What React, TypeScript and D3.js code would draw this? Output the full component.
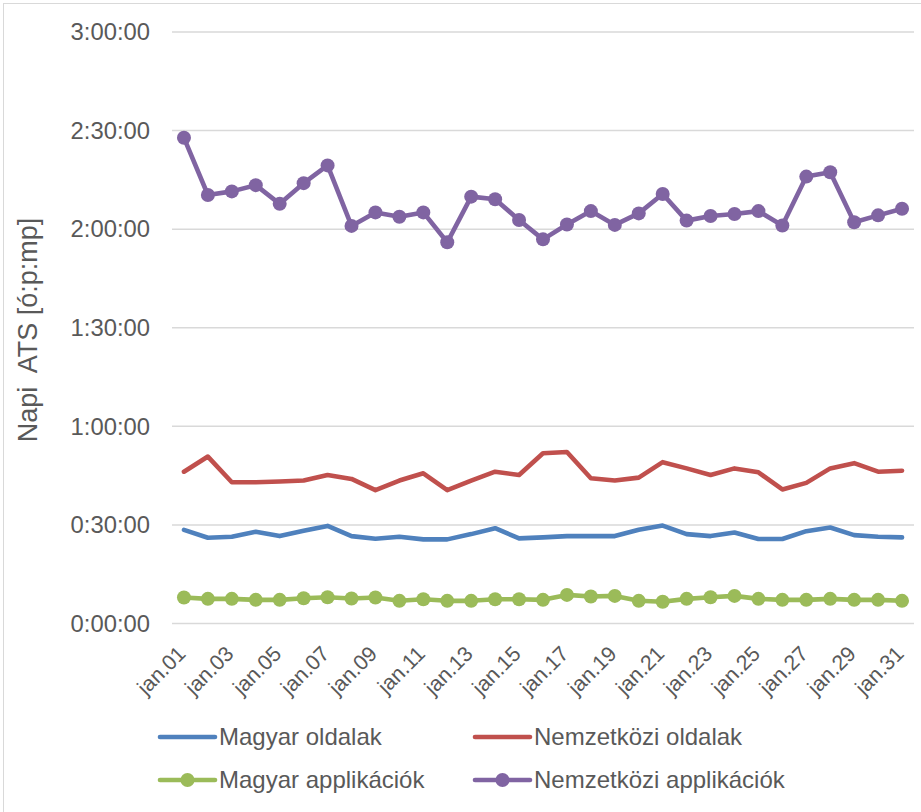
import React from "react";
import * as d3 from "d3";

const days = d3.range(1, 32).map((d) => `jan.${String(d).padStart(2, "0")}`);
// values in minutes
const magyarOldalak = [28.5, 26.1, 26.4, 27.9, 26.6, 28.2, 29.7, 26.6, 25.8, 26.4, 25.6, 25.6, 27.2, 29.0, 25.9, 26.2, 26.6, 26.6, 26.6, 28.5, 29.8, 27.2, 26.6, 27.7, 25.7, 25.7, 28.1, 29.2, 26.9, 26.4, 26.2];
const nemzetkoziOldalak = [46.2, 50.8, 43.0, 43.0, 43.2, 43.5, 45.2, 44.0, 40.6, 43.5, 45.7, 40.6, 43.5, 46.2, 45.2, 51.8, 52.2, 44.2, 43.5, 44.4, 49.1, 47.2, 45.2, 47.2, 46.0, 40.8, 42.8, 47.2, 48.8, 46.2, 46.5];
const magyarApp = [7.9, 7.5, 7.5, 7.2, 7.2, 7.7, 8.0, 7.6, 7.9, 6.9, 7.4, 6.9, 6.9, 7.4, 7.4, 7.2, 8.7, 8.2, 8.4, 6.9, 6.6, 7.5, 8.0, 8.4, 7.5, 7.2, 7.2, 7.5, 7.2, 7.2, 6.9];
const nemzetkoziApp = [147.8, 130.4, 131.5, 133.4, 127.7, 134.0, 139.4, 121.0, 125.1, 123.8, 125.1, 116.0, 129.9, 129.1, 122.8, 116.9, 121.4, 125.5, 121.3, 124.8, 130.7, 122.6, 124.0, 124.6, 125.5, 121.1, 136.0, 137.3, 122.1, 124.2, 126.2];
const yTicks = [0, 30, 60, 90, 120, 150, 180];

const series = [
  { name: "Magyar oldalak", values: magyarOldalak, color: "#4f81bd", marker: false },
  { name: "Nemzetközi oldalak", values: nemzetkoziOldalak, color: "#c0504d", marker: false },
  { name: "Magyar applikációk", values: magyarApp, color: "#9bbb59", marker: true },
  { name: "Nemzetközi applikációk", values: nemzetkoziApp, color: "#8064a2", marker: true },
];

const fmt = (m: number) => {
  const h = Math.floor(m / 60);
  const mm = Math.round(m % 60);
  return `${h}:${String(mm).padStart(2, "0")}:00`;
};

export default function App() {
  const W = 921, H = 812;
  const left = 172, right = 914, top = 32, bottom = 623.5;
  const x = d3.scaleBand<string>().domain(days).range([left, right]);
  const y = d3.scaleLinear().domain([0, 180]).range([bottom, top]);
  const cx = (d: string) => (x(d) as number) + x.bandwidth() / 2;
  const line = d3.line<number>().x((_, i) => cx(days[i])).y((v) => y(v));
  const font = "'Liberation Sans', Arial, sans-serif";
  const txt = "#595959";

  const legendPos = [
    { lx: 160, ly: 737 },
    { lx: 475, ly: 737 },
    { lx: 160, ly: 780 },
    { lx: 475, ly: 780 },
  ];

  return (
    <svg width={W} height={H} style={{ position: "absolute", left: 0, top: 0 }} fontFamily={font}>
      <rect x={0} y={0} width={W} height={H} fill="#fff" />
      <rect x={3.5} y={3.5} width={W + 10} height={H + 10} fill="none" stroke="#d9d9d9" strokeWidth={1} />
      {yTicks.map((t) => (
        <g key={t}>
          <line x1={left} x2={right} y1={y(t)} y2={y(t)} stroke="#d9d9d9" strokeWidth={1.5} />
          <text x={150} y={y(t)} dy="0.35em" textAnchor="end" fontSize={23.8} fill={txt}>
            {fmt(t)}
          </text>
        </g>
      ))}
      <text
        transform={`translate(37,330) rotate(-90)`}
        textAnchor="middle"
        fontSize={27}
        fill={txt}
        style={{ whiteSpace: "pre" }}
      >
        {"Napi  ATS [ó:p:mp]"}
      </text>
      {days.map((d, i) =>
        i % 2 === 0 ? (
          <text
            key={d}
            transform={`translate(${cx(d) + 3},${bottom + 31.5}) rotate(-45)`}
            textAnchor="end"
            fontSize={21.3}
            fill={txt}
          >
            {d}
          </text>
        ) : null
      )}
      {series.map((s) => (
        <g key={s.name}>
          <path d={line(s.values) || ""} fill="none" stroke={s.color} strokeWidth={4.6} strokeLinejoin="round" strokeLinecap="round" />
          {s.marker &&
            s.values.map((v, i) => <circle key={i} cx={cx(days[i])} cy={y(v)} r={7} fill={s.color} />)}
        </g>
      ))}
      {series.map((s, i) => {
        const { lx, ly } = legendPos[i];
        return (
          <g key={s.name}>
            <line x1={lx} x2={lx + 55} y1={ly} y2={ly} stroke={s.color} strokeWidth={4.6} strokeLinecap="round" />
            {s.marker && <circle cx={lx + 27.5} cy={ly} r={7} fill={s.color} />}
            <text x={lx + 59} y={ly} dy="0.35em" fontSize={24} fill={txt}>
              {s.name}
            </text>
          </g>
        );
      })}
    </svg>
  );
}
